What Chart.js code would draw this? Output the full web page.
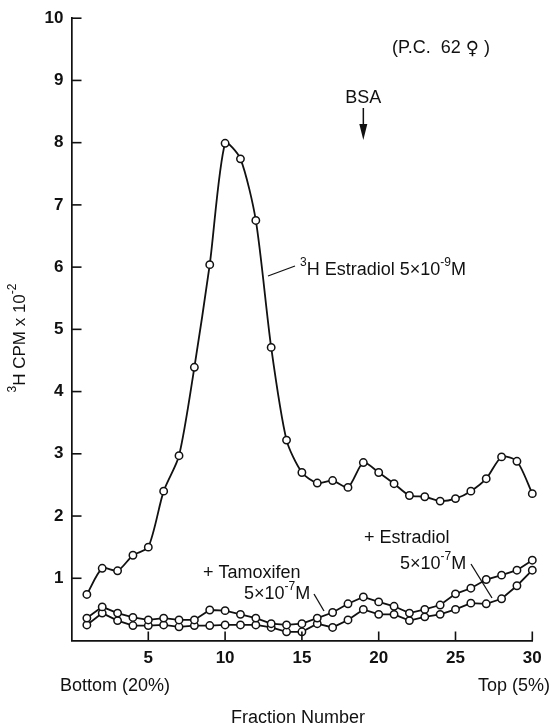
<!DOCTYPE html>
<html>
<head>
<meta charset="utf-8">
<script src="https://cdn.jsdelivr.net/npm/chart.js@4.4.1/dist/chart.umd.min.js"></script>
<style>
    html, body { margin: 0; padding: 0; background: #fff; }
    #wrap { position: relative; width: 551px; height: 728px; }
</style>
</head>
<body>
<div id="wrap"><canvas id="chart"></canvas></div>
<script>
const fractions = [1, 2, 3, 4, 5, 6, 7, 8, 9, 10, 11, 12, 13, 14, 15, 16, 17, 18, 19, 20, 21, 22, 23, 24, 25, 26, 27, 28, 29, 30];

// 3H estradiol 5x10-9 M alone
const estradiolTracer = [0.74, 1.16, 1.12, 1.37, 1.50, 2.40, 2.97, 4.39, 6.04, 7.99, 7.74, 6.75, 4.71, 3.22, 2.70,
    2.53, 2.57, 2.46, 2.86, 2.70, 2.52, 2.33, 2.31, 2.24, 2.28, 2.40, 2.60, 2.95, 2.88, 2.36];

// + tamoxifen 5x10-7 M
const plusTamoxifen = [0.36, 0.54, 0.44, 0.37, 0.33, 0.36, 0.33, 0.33, 0.49, 0.48, 0.42, 0.36, 0.27, 0.25, 0.27,
    0.36, 0.45, 0.59, 0.70, 0.62, 0.55, 0.44, 0.50, 0.57, 0.75, 0.84, 0.98, 1.05, 1.13, 1.29];

// + estradiol 5x10-7 M
const plusEstradiol = [0.25, 0.44, 0.32, 0.24, 0.24, 0.25, 0.22, 0.24, 0.24, 0.25, 0.25, 0.25, 0.21, 0.14, 0.14,
    0.27, 0.21, 0.33, 0.50, 0.42, 0.42, 0.32, 0.38, 0.42, 0.50, 0.60, 0.59, 0.67, 0.88, 1.13];

const yTicks = [1, 2, 3, 4, 5, 6, 7, 8, 9, 10];
const xTicks = [5, 10, 15, 20, 25, 30];
const bsaFraction = 19;

const ink = '#111';
const family = '"Liberation Sans", Arial, Helvetica, sans-serif';

function series(values) {
    return fractions.map((f, i) => ({ x: f, y: values[i] }));
}

function lineDataset(label, values, tension) {
    return {
        label,
        data: series(values),
        borderColor: ink,
        borderWidth: 1.8,
        tension,
        clip: false,
        pointRadius: 3.7,
        pointBorderWidth: 1.5,
        pointBackgroundColor: '#fff',
        pointBorderColor: ink
    };
}

// draw text pieces with optional superscripts, left aligned at x
function drawRich(ctx, parts, x, y, size) {
    let cx = x;
    parts.forEach((p) => {
        const fs = p.sup ? Math.round(size * 0.68) : size;
        ctx.font = `${fs}px ${family}`;
        ctx.fillText(p.t, cx, p.sup ? y - size * 0.42 : y);
        cx += ctx.measureText(p.t).width;
    });
    return cx;
}

function richWidth(ctx, parts, size) {
    let w = 0;
    parts.forEach((p) => {
        const fs = p.sup ? Math.round(size * 0.68) : size;
        ctx.font = `${fs}px ${family}`;
        w += ctx.measureText(p.t).width;
    });
    return w;
}

function line(ctx, x1, y1, x2, y2, w) {
    ctx.beginPath();
    ctx.lineWidth = w || 1.2;
    ctx.moveTo(x1, y1);
    ctx.lineTo(x2, y2);
    ctx.stroke();
}

const decorations = {
    id: 'decorations',
    afterDraw(chart) {
        const { ctx, scales: { x, y } } = chart;
        ctx.save();
        ctx.fillStyle = ink;
        ctx.strokeStyle = ink;
        ctx.textBaseline = 'middle';
        ctx.textAlign = 'left';

        // inward ticks
        yTicks.forEach((v) => line(ctx, x.left, y.getPixelForValue(v), x.left + 10, y.getPixelForValue(v), 1.6));
        xTicks.forEach((v) => line(ctx, x.getPixelForValue(v), y.bottom, x.getPixelForValue(v), y.bottom - 9, 1.6));

        // y title, rotated
        ctx.save();
        ctx.translate(20, 338);
        ctx.rotate(-Math.PI / 2);
        const yTitle = [{ t: '3', sup: true }, { t: 'H CPM x 10' }, { t: '-2', sup: true }];
        drawRich(ctx, yTitle, -richWidth(ctx, yTitle, 17) / 2, 0, 17);
        ctx.restore();

        // axis end notes and title
        ctx.font = `18px ${family}`;
        ctx.fillText('Bottom (20%)', 60, 686);
        ctx.textAlign = 'right';
        ctx.fillText('Top (5%)', 550, 686);
        ctx.textAlign = 'center';
        ctx.fillText('Fraction Number', 298, 718);
        ctx.textAlign = 'left';

        ctx.fillText('(P.C.  62 ', 392, 48);
        const pcEnd = 392 + ctx.measureText('(P.C.  62 ').width;
        ctx.font = `bold 18px "DejaVu Sans", ${family}`;
        ctx.fillText('\u2640', pcEnd, 49);
        const symEnd = pcEnd + ctx.measureText('\u2640').width;
        ctx.font = `18px ${family}`;
        ctx.fillText(' )', symEnd, 48);

        // BSA marker
        const bx = x.getPixelForValue(bsaFraction);
        ctx.textAlign = 'center';
        ctx.fillText('BSA', bx, 98);
        ctx.textAlign = 'left';
        line(ctx, bx, 108, bx, 130, 1.5);
        ctx.beginPath();
        ctx.moveTo(bx - 4, 124);
        ctx.lineTo(bx + 4, 124);
        ctx.lineTo(bx, 140);
        ctx.closePath();
        ctx.fill();

        // series labels
        line(ctx, 268, 276, 295, 266, 1.3);
        drawRich(ctx, [{ t: '3', sup: true }, { t: 'H Estradiol 5\u00d710' }, { t: '-9', sup: true }, { t: 'M' }], 300, 270, 18);

        drawRich(ctx, [{ t: '+ Tamoxifen' }], 203, 573, 18);
        drawRich(ctx, [{ t: '5\u00d710' }, { t: '-7', sup: true }, { t: 'M' }], 244, 594, 18);
        line(ctx, 314, 594, 324, 611, 1.3);

        drawRich(ctx, [{ t: '+ Estradiol' }], 364, 538, 18);
        drawRich(ctx, [{ t: '5\u00d710' }, { t: '-7', sup: true }, { t: 'M' }], 400, 564, 18);
        line(ctx, 471, 564, 492, 598, 1.3);

        ctx.restore();
    }
};

new Chart(document.getElementById('chart'), {
    type: 'line',
    data: {
        datasets: [
            lineDataset('3H Estradiol 5x10-9M', estradiolTracer, 0.25),
            lineDataset('+ Tamoxifen 5x10-7M', plusTamoxifen, 0),
            lineDataset('+ Estradiol 5x10-7M', plusEstradiol, 0)
        ]
    },
    options: {
        responsive: true,
        maintainAspectRatio: false,
        animation: false,
        layout: {
            padding: { top: 15.7, right: 18.7, left: 0, bottom: 0 }
        },
        plugins: {
            legend: { display: false },
            tooltip: { enabled: false }
        },
        scales: {
            x: {
                type: 'linear',
                min: 0,
                max: 30,
                afterFit: (scale) => { scale.height = 87.5; },
                border: { display: true, color: ink, width: 1.7 },
                grid: { display: false, drawTicks: false },
                ticks: {
                    stepSize: 5,
                    padding: 8,
                    color: ink,
                    font: { family, size: 17, weight: 'bold' },
                    callback: (v) => (v === 0 ? '' : v)
                }
            },
            y: {
                min: 0,
                max: 10,
                afterFit: (scale) => { scale.width = 71.5; },
                border: { display: true, color: ink, width: 1.7 },
                grid: { display: false, drawTicks: false },
                ticks: {
                    stepSize: 1,
                    padding: 8,
                    color: ink,
                    font: { family, size: 17, weight: 'bold' },
                    callback: (v) => (v === 0 ? '' : v)
                }
            }
        }
    },
    plugins: [decorations]
});
</script>
</body>
</html>
